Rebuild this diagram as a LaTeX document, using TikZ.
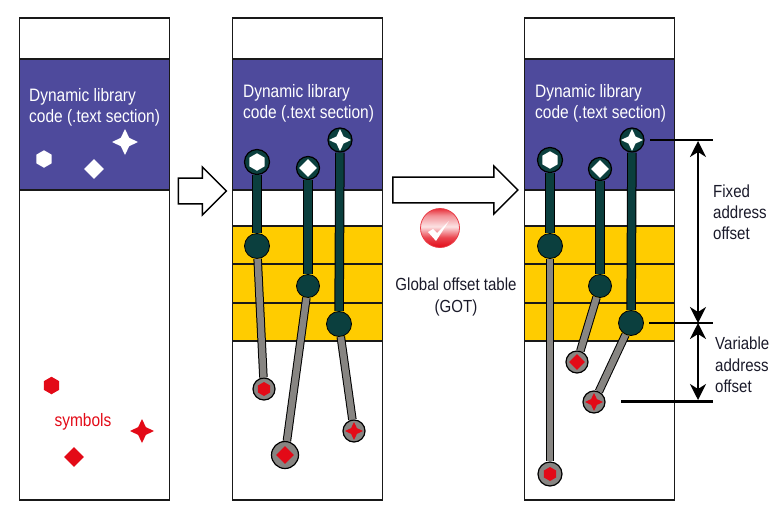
\documentclass[tikz,border=0pt]{standalone}
\usepackage{fontspec}
\setmainfont[FakeStretch=0.86]{Liberation Sans}
\usetikzlibrary{arrows.meta, positioning, shapes.geometric, shapes.arrows}
\definecolor{codeblue}{HTML}{4E4A9C}
\definecolor{gotgold}{HTML}{FFCC00}
\definecolor{pindark}{HTML}{0B3F3E}
\definecolor{pingrey}{HTML}{878582}
\definecolor{symred}{HTML}{E30A17}
\definecolor{labeldark}{HTML}{1A1A2A}
\pgfdeclareverticalshading{ballshade}{100bp}{color(0bp)=(symred); color(25bp)=(symred); color(38bp)=(symred!75!white); color(52bp)=(symred!12!white); color(66bp)=(symred!45!white); color(75bp)=(symred!85!white); color(100bp)=(symred!85!white)}

\begin{document}
\begin{tikzpicture}[
  x=1pt, y=-1pt,
  slot/.style={draw=black!90, line width=1.5pt, minimum width=150pt, inner sep=0pt, outer sep=0pt},
  libtext/.style={text=white, align=left, anchor=north west, inner sep=0pt, font=\fontsize{18pt}{21pt}\selectfont},
  dimtext/.style={text=labeldark, align=left, anchor=north west, inner sep=0pt, font=\fontsize{17.5pt}{21.3pt}\selectfont},
  bigarrow/.style={single arrow, draw=black, line width=1.4pt, fill=white, inner sep=12pt, single arrow head extend=11pt, single arrow head indent=0pt, minimum width=48pt},
  hexmark/.style={regular polygon, regular polygon sides=6, shape border rotate=30, inner sep=0pt, minimum size=17.5pt},
  diamark/.style={diamond, aspect=1, inner sep=0pt, minimum width=18pt, minimum height=18pt},
  starmark/.style={star, star points=4, star point ratio=2.2, inner sep=0pt, minimum size=22pt},
  codehead/.style={circle, draw=black, line width=1.2pt, fill=pindark, inner sep=0pt, minimum size=24pt},
  gotdot/.style={circle, draw=black, line width=0.8pt, fill=pindark, inner sep=0pt, minimum size=25pt},
  symdot/.style={circle, draw=black, line width=1.2pt, fill=pingrey, inner sep=0pt, minimum size=22pt},
  darkstem/.style={draw=black, line width=1pt, double=pindark, double distance=7.5pt},
  greystem/.style={draw=black, line width=1pt, double=pingrey, double distance=6.5pt},
  dimline/.style={draw=black, line width=2pt},
  dimarrow/.style={draw=black, line width=2pt, {Stealth[length=16pt, width=16pt, inset=5pt]}-{Stealth[length=16pt, width=16pt, inset=5pt]}}
]
\useasboundingbox (0,0) rectangle (779,509);

% first column
\node[slot, minimum height=41pt, anchor=north west] (atop) at (19.5,18) {};
\node[slot, minimum height=131pt, fill=codeblue, below=0pt of atop] (acode) {};
\node[slot, minimum height=310pt, below=0pt of acode] (arest) {};
\node[libtext] (atext) at (29,88) {Dynamic library\\code (.text section)};
\node[hexmark, fill=white] (ahex) at (44,159) {};
\node[diamark, fill=white, minimum width=20pt, minimum height=20pt] (adia) at (94,169) {};
\node[starmark, fill=white, minimum size=26pt] (astar) at (125,142) {};
\node[hexmark, fill=symred] (bhex) at (51.5,385.5) {};
\node[diamark, fill=symred, minimum width=20pt, minimum height=20pt] (bdia) at (74,457) {};
\node[starmark, fill=symred, minimum size=24pt] (bstar) at (142,431) {};
\node[text=symred, inner sep=0pt, font=\fontsize{18pt}{18pt}\selectfont] (symlabel) at (83,422) {symbols};

% second column
\node[slot, minimum height=41pt, anchor=north west] (ctop) at (232.5,18) {};
\node[slot, minimum height=131pt, fill=codeblue, below=0pt of ctop] (ccode) {};
\node[slot, minimum height=36pt, below=0pt of ccode] (cgap) {};
\node[slot, minimum height=38pt, fill=gotgold, below=0pt of cgap] (cgota) {};
\node[slot, minimum height=39pt, fill=gotgold, below=0pt of cgota] (cgotb) {};
\node[slot, minimum height=38pt, fill=gotgold, below=0pt of cgotb] (cgotc) {};
\node[slot, minimum height=159pt, below=0pt of cgotc] (crest) {};
\node[libtext] (ctext) at (243,84) {Dynamic library\\code (.text section)};

\node[codehead, minimum size=25pt] (chexhead) at (257,162) {};
\node[codehead, minimum size=23pt] (cdiahead) at (308,168) {};
\node[codehead] (cstarhead) at (340,140) {};
\node[gotdot] (chexgot) at (257,246) {};
\node[gotdot, minimum size=23pt] (cdiagot) at (308,286) {};
\node[gotdot] (cstargot) at (339,324) {};
\node[symdot] (chexsym) at (264,389) {};
\node[symdot, minimum size=27pt] (cdiasym) at (285,455) {};
\node[symdot] (cstarsym) at (354,431) {};
\draw[darkstem] (chexhead) -- (chexgot);
\draw[darkstem] (cdiahead) -- (cdiagot);
\draw[darkstem] (cstarhead) -- (cstargot);
\draw[greystem] (chexgot) -- (chexsym);
\draw[greystem] (cdiagot) -- (cdiasym);
\draw[greystem] (cstargot) -- (cstarsym);
\node[hexmark, fill=white] (chexw) at (chexhead) {};
\node[diamark, fill=white] (cdiaw) at (cdiahead) {};
\node[starmark, fill=white] (cstarw) at (cstarhead) {};
\node[hexmark, fill=symred, minimum size=14pt] (chexr) at (chexsym) {};
\node[diamark, fill=symred] (cdiar) at (cdiasym) {};
\node[starmark, fill=symred, minimum size=18pt] (cstarr) at (cstarsym) {};

% third column
\node[slot, minimum height=41pt, anchor=north west] (etop) at (524.5,18) {};
\node[slot, minimum height=131pt, fill=codeblue, below=0pt of etop] (ecode) {};
\node[slot, minimum height=36pt, below=0pt of ecode] (egap) {};
\node[slot, minimum height=38pt, fill=gotgold, below=0pt of egap] (egota) {};
\node[slot, minimum height=39pt, fill=gotgold, below=0pt of egota] (egotb) {};
\node[slot, minimum height=38pt, fill=gotgold, below=0pt of egotb] (egotc) {};
\node[slot, minimum height=159pt, below=0pt of egotc] (erest) {};
\node[libtext] (etext) at (535,84) {Dynamic library\\code (.text section)};

\node[codehead, minimum size=25pt] (ehexhead) at (550,160) {};
\node[codehead, minimum size=23pt] (ediahead) at (600,169) {};
\node[codehead] (estarhead) at (632,140) {};
\node[gotdot] (ehexgot) at (550,246) {};
\node[gotdot, minimum size=23pt] (ediagot) at (600,286) {};
\node[gotdot] (estargot) at (631,323) {};
\node[symdot, minimum size=24pt] (ehexsym) at (550,474) {};
\node[symdot] (ediasym) at (577,362) {};
\node[symdot] (estarsym) at (594,402) {};
\draw[darkstem] (ehexhead) -- (ehexgot);
\draw[darkstem] (ediahead) -- (ediagot);
\draw[darkstem] (estarhead) -- (estargot);
\draw[greystem] (ehexgot) -- (ehexsym);
\draw[greystem] (ediagot) -- (ediasym);
\draw[greystem] (estargot) -- (estarsym);
\node[hexmark, fill=white] (ehexw) at (ehexhead) {};
\node[diamark, fill=white] (ediaw) at (ediahead) {};
\node[starmark, fill=white] (estarw) at (estarhead) {};
\node[hexmark, fill=symred, minimum size=14pt] (ehexr) at (ehexsym) {};
\node[diamark, fill=symred, minimum width=16pt, minimum height=16pt] (ediar) at (ediasym) {};
\node[starmark, fill=symred, minimum size=18pt] (estarr) at (estarsym) {};

% block arrows
\node[bigarrow, minimum height=48pt] (firstarrow) at (196,191) {};
\node[bigarrow, minimum height=125pt] (secondarrow) at (449,190) {};

% check ball and GOT label
\node[circle, draw=symred!80!white, line width=0.8pt, shading=ballshade, minimum size=39pt, inner sep=0pt] (okball) at (440,228) {};
\fill[white] (428,232) -- (433,229) -- (437,233) -- (449,221) -- (436,241) -- cycle;
\node[text=labeldark, align=center, inner sep=0pt, font=\fontsize{17.5pt}{22pt}\selectfont] (gotlabel) at (456,296.5) {Global offset table\\(GOT)};

% offsets
\coordinate (fixa) at (650,140);
\coordinate (fixb) at (713,140);
\coordinate (mida) at (649,323);
\coordinate (midb) at (713,323);
\coordinate (vara) at (621,401);
\coordinate (varb) at (713,401);
\coordinate (fixtop) at (698,141);
\coordinate (midpt) at (698,323);
\coordinate (varbot) at (698,400);
\draw[dimline] (fixa) -- (fixb);
\draw[dimline] (mida) -- (midb);
\draw[dimline, line width=3pt] (vara) -- (varb);
\draw[dimarrow] (fixtop) -- (midpt);
\draw[dimarrow] (midpt) -- (varbot);
\node[dimtext] (fixlabel) at (713,184.5) {Fixed\\address\\offset};
\node[dimtext] (varlabel) at (715,337) {Variable\\address\\offset};
\end{tikzpicture}
\end{document}
